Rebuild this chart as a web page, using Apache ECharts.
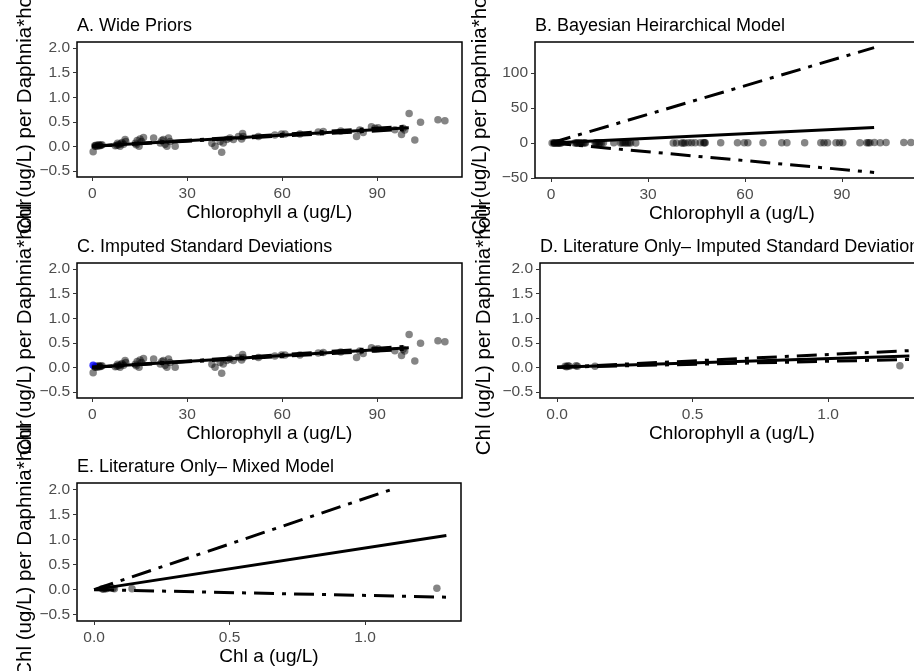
<!DOCTYPE html>
<html>
<head>
<meta charset="utf-8">
<script src="https://cdn.jsdelivr.net/npm/echarts@6/dist/echarts.min.js"></script>
<style>
  html, body { margin: 0; padding: 0; background: #fff; }
  #chart { width: 914px; height: 671px; }
</style>
</head>
<body>
<div id="chart"></div>
<script>
// Field observations: chlorophyll a (ug/L) vs grazing rate
const fieldChl = [
  0.3, 0.8, 1.2, 1.6, 2.0, 2.4, 2.8, 3.1, 1.0, 2.2,
  7.3, 8.0, 8.3, 8.8, 9.4, 9.9, 10.4, 10.6, 7.8, 9.0,
  13.6, 14.2, 14.8, 15.1, 15.6, 16.2, 13.9,
  19.4,
  21.5, 22.5, 23.0, 23.6, 24.1, 24.6, 26.2, 22.0,
  37.8, 38.8, 40.4, 40.9, 41.4, 42.5, 43.5, 44.6,
  46.2, 47.2, 47.5, 47.7,
  52.5, 57.7, 59.8, 60.9, 65.6, 71.4, 73.0, 78.5,
  83.5, 84.5, 85.6, 88.2, 89.3, 90.3,
  95.6, 97.7, 98.2, 98.7,
  100.1, 101.9, 103.7, 109.2, 111.4
];
const fieldRate = [
  -0.11, 0.01, 0.02, 0.00, 0.03, 0.01, 0.02, 0.03, 0.00, 0.02,
  0.01, 0.06, 0.03, 0.00, 0.08, 0.04, 0.14, 0.10, 0.02, 0.05,
  0.06, 0.12, 0.00, 0.15, 0.10, 0.18, 0.03,
  0.17,
  0.07, 0.14, 0.04, 0.00, 0.17, 0.10, 0.00, 0.12,
  0.06, 0.00, 0.10, -0.12, 0.07, 0.14, 0.17, 0.14,
  0.20, 0.15, 0.26, 0.20,
  0.20, 0.23, 0.25, 0.25, 0.25, 0.29, 0.30, 0.31,
  0.20, 0.33, 0.28, 0.40, 0.37, 0.38,
  0.34, 0.24, 0.37, 0.33,
  0.67, 0.13, 0.49, 0.54, 0.52
];

// Literature-only observations
const litChl = [0.030, 0.035, 0.040, 0.045, 0.070, 0.075, 0.140, 1.265];
const litRate = [0.02, 0.01, 0.03, 0.02, 0.03, 0.02, 0.02, 0.03];

// Observation with imputed standard deviation
const imputedChl = [0.3];
const imputedRate = [0.04];

// Fitted relationships (x endpoints, then mean / lower / upper y endpoints)
const fieldFitX = [0, 100];
const litFitX = [0, 1.3];
const fitA = { mean: [0, 0.38], lower: [0, 0.35], upper: [0, 0.41] };
const fitB = { mean: [0, 22], lower: [0, -42], upper: [0, 136] };
const fitC = { mean: [0, 0.40], lower: [0, 0.37], upper: [0, 0.43] };
const fitD = { mean: [0, 0.23], lower: [0, 0.16], upper: [0, 0.34] };
const fitE = { mean: [0, 1.08], lower: [0, -0.15] };
const fitEUpperX = [0, 1.1];
const fitEUpper = [0, 2.0];

// Tick labels
const rateTicks = [-0.5, 0, 0.5, 1.0, 1.5, 2.0];
const bayesTicks = [-50, 0, 50, 100];
const fieldTicks = [0, 30, 60, 90];
const litTicks = [0, 0.5, 1.0];

const panelTitles = [
  'A. Wide Priors',
  'B. Bayesian Heirarchical Model',
  'C. Imputed Standard Deviations',
  'D. Literature Only\u2013 Imputed Standard Deviations',
  'E. Literature Only\u2013 Mixed Model'
];
const xTitles = ['Chlorophyll a (ug/L)', 'Chlorophyll a (ug/L)', 'Chlorophyll a (ug/L)', 'Chlorophyll a (ug/L)', 'Chl a (ug/L)'];
const yTitle = 'Chl (ug/L) per Daphnia*hour';

const FONT = '"Liberation Sans", Arial, Helvetica, sans-serif';
const minus = s => s.replace('-', '\u2212');
const fmt1 = v => minus(Number(v).toFixed(1));
const fmt0 = v => minus(String(Math.round(v)));

const grids = [
  { left: 77, top: 42, width: 385, height: 135 },
  { left: 535, top: 42, width: 394, height: 136 },
  { left: 77, top: 263, width: 385, height: 135 },
  { left: 540, top: 263, width: 384, height: 135 },
  { left: 77, top: 483, width: 384, height: 138 }
].map(g => Object.assign({
  show: true, borderColor: '#000', borderWidth: 1.5, backgroundColor: 'transparent',
  containLabel: false, outerBoundsMode: 'none'
}, g));

const xRanges = [[-4.8, 116.8], [-5, 117], [-4.8, 116.8], [-0.063, 1.354], [-0.063, 1.354]];
const xTickSets = [fieldTicks, fieldTicks, fieldTicks, litTicks, litTicks];
const xFmts = [fmt0, fmt0, fmt0, fmt1, fmt1];
const yRanges = [[-0.625, 2.125], [-50, 144], [-0.625, 2.125], [-0.625, 2.125], [-0.625, 2.125]];
const yTickSets = [rateTicks, bayesTicks, rateTicks, rateTicks, rateTicks];
const yFmts = [fmt1, fmt0, fmt1, fmt1, fmt1];
const yGaps = [41, 44, 41, 45, 41];

const xAxis = grids.map((g, i) => ({
  type: 'value', gridIndex: i, min: xRanges[i][0], max: xRanges[i][1],
  splitLine: { show: false },
  axisLine: { show: false, onZero: false },
  axisTick: { show: true, inside: false, length: 4, customValues: xTickSets[i], lineStyle: { color: '#333', width: 1 } },
  axisLabel: { customValues: xTickSets[i], formatter: xFmts[i], color: '#4d4d4d', fontSize: 15.5, fontFamily: FONT, margin: 9 },
  name: xTitles[i], nameLocation: 'middle', nameGap: 26,
  nameTextStyle: { color: '#000', fontSize: 19, fontFamily: FONT }
}));

const yAxis = grids.map((g, i) => ({
  type: 'value', gridIndex: i, min: yRanges[i][0], max: yRanges[i][1],
  splitLine: { show: false },
  axisLine: { show: false, onZero: false },
  axisTick: { show: true, inside: false, length: 4, customValues: yTickSets[i], lineStyle: { color: '#333', width: 1 } },
  axisLabel: { customValues: yTickSets[i], formatter: yFmts[i], color: '#4d4d4d', fontSize: 15.5, fontFamily: FONT, margin: 7 },
  name: yTitle, nameLocation: 'middle', nameGap: yGaps[i], nameRotate: 90,
  nameTextStyle: { color: '#000', fontSize: 20.5, fontFamily: FONT, padding: [0, 0, 0, 7] }
}));

const title = grids.map((g, i) => ({
  text: panelTitles[i], left: g.left, top: g.top - 25, padding: 0,
  textStyle: { color: '#000', fontSize: 18, fontWeight: 'normal', fontFamily: FONT }
}));

const pts = (xs, ys) => xs.map((x, k) => [x, ys[k]]);
const DOTDASH = [20, 8, 4, 8];

function scatter(i, xs, ys, color) {
  return {
    type: 'scatter', xAxisIndex: i, yAxisIndex: i, data: pts(xs, ys),
    symbol: 'circle', symbolSize: 7.5, silent: true, z: 2,
    itemStyle: { color: color || 'rgba(0,0,0,0.6)', borderWidth: 0 }
  };
}
function line(i, xs, ys, dashed) {
  return {
    type: 'line', xAxisIndex: i, yAxisIndex: i, data: pts(xs, ys),
    symbol: 'none', silent: true, z: 3, animation: false,
    lineStyle: { color: '#000', width: 3, type: dashed ? DOTDASH : 'solid', cap: 'butt' }
  };
}

const series = [
  // A
  scatter(0, fieldChl, fieldRate),
  line(0, fieldFitX, fitA.mean), line(0, fieldFitX, fitA.lower, true), line(0, fieldFitX, fitA.upper, true),
  // B
  scatter(1, fieldChl, fieldRate),
  line(1, fieldFitX, fitB.mean), line(1, fieldFitX, fitB.lower, true), line(1, fieldFitX, fitB.upper, true),
  // C
  scatter(2, fieldChl, fieldRate),
  line(2, fieldFitX, fitC.mean), line(2, fieldFitX, fitC.lower, true), line(2, fieldFitX, fitC.upper, true),
  scatter(2, imputedChl, imputedRate, '#0000ff'),
  // D
  scatter(3, litChl, litRate),
  line(3, litFitX, fitD.mean), line(3, litFitX, fitD.lower, true), line(3, litFitX, fitD.upper, true),
  // E
  scatter(4, litChl, litRate),
  line(4, litFitX, fitE.mean), line(4, litFitX, fitE.lower, true), line(4, fitEUpperX, fitEUpper, true)
];

const chart = echarts.init(document.getElementById('chart'), null, { renderer: 'canvas' });
chart.setOption({
  animation: false,
  backgroundColor: '#fff',
  title, grid: grids, xAxis, yAxis, series
});
</script>
</body>
</html>
